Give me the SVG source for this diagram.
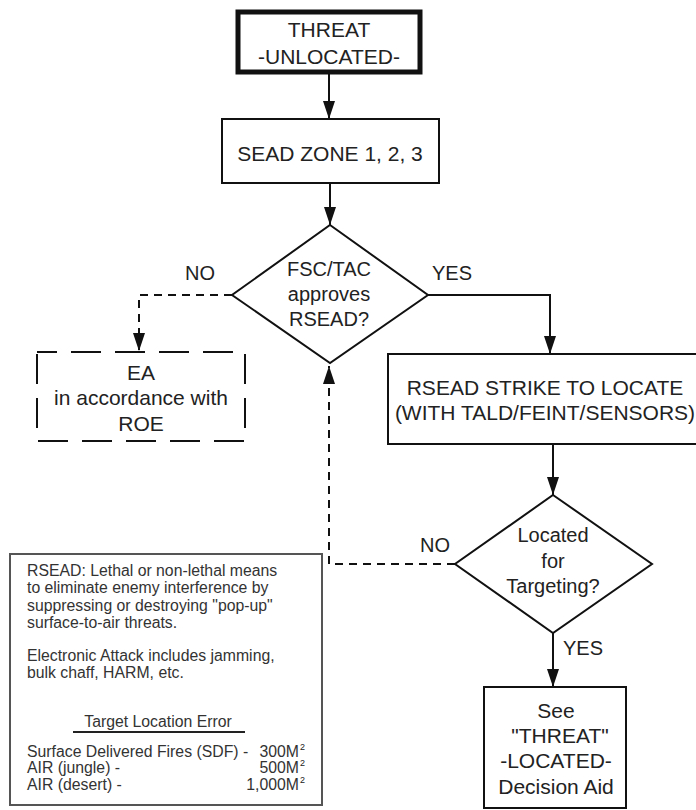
<svg xmlns="http://www.w3.org/2000/svg" width="696" height="810" viewBox="0 0 696 810">
<style>
text{font-family:"Liberation Sans",Arial,sans-serif;fill:#222}
.m{font-size:21px;text-anchor:middle}
.d{font-size:20px;text-anchor:middle}
.n{font-size:15.8px;fill:#333}
.box{fill:#fff;stroke:#111;stroke-width:2}
.ln{fill:none;stroke:#111;stroke-width:2}
.dl{fill:none;stroke:#111;stroke-width:2;stroke-dasharray:8 6}
</style>
<defs>
<marker id="ahl" viewBox="0 0 18 12" refX="18" refY="6" markerWidth="18" markerHeight="12" markerUnits="userSpaceOnUse" orient="auto">
<path d="M0,0 L18,6 L0,12 Z" fill="#111"/>
</marker>
</defs>
<rect width="696" height="810" fill="#fff"/>
<g id="connectors">
<path class="ln" d="M329,74 V119" marker-end="url(#ahl)"/>
<path class="ln" d="M330,183 V225" marker-end="url(#ahl)"/>
<path class="dl" d="M232,295 H139 V351" marker-end="url(#ahl)"/>
<path class="ln" d="M428,295 H550 V354" marker-end="url(#ahl)"/>
<path class="ln" d="M553,444 V495" marker-end="url(#ahl)"/>
<path class="dl" d="M455,564 H329 V366" marker-end="url(#ahl)"/>
<path class="ln" d="M553,633 V687" marker-end="url(#ahl)"/>
<text class="d" x="200" y="280">NO</text>
<text class="d" x="452" y="280">YES</text>
<text class="d" x="435" y="552">NO</text>
<text class="d" x="563" y="655" style="text-anchor:start">YES</text>
</g>
<g id="threat-unlocated">
<rect x="238" y="12" width="182" height="60" fill="#fff" stroke="#111" stroke-width="5"/>
<text class="m" x="329" y="37">THREAT</text>
<text class="m" x="329" y="64">-UNLOCATED-</text>
</g>
<g id="sead-zone">
<rect class="box" x="222" y="119" width="217" height="64"/>
<text class="m" x="330" y="161">SEAD ZONE 1, 2, 3</text>
</g>
<g id="approves">
<path class="box" d="M330,225 L428,295 L330,363 L232,295 Z"/>
<text class="d" x="329" y="276">FSC/TAC</text>
<text class="d" x="329" y="301">approves</text>
<text class="d" x="329" y="326">RSEAD?</text>
</g>
<g id="ea">
<rect x="37" y="352" width="208" height="89" fill="#fff" stroke="#111" stroke-width="2" stroke-dasharray="30 14" stroke-dashoffset="10"/>
<text class="m" x="141" y="380">EA</text>
<text class="m" x="141" y="405">in accordance with</text>
<text class="m" x="141" y="431">ROE</text>
</g>
<g id="strike">
<rect class="box" x="388" y="354" width="320" height="90"/>
<text class="m" x="545" y="395">RSEAD STRIKE TO LOCATE</text>
<text class="m" x="545" y="420">(WITH TALD/FEINT/SENSORS)</text>
</g>
<g id="located">
<path class="box" d="M553,495 L652,564 L553,633 L455,564 Z"/>
<text class="d" x="553" y="542">Located</text>
<text class="d" x="553" y="568">for</text>
<text class="d" x="553" y="593">Targeting?</text>
</g>
<g id="see-located">
<rect class="box" x="484" y="687" width="142" height="121"/>
<text class="m" x="556" y="718">See</text>
<text class="m" x="560" y="743">"THREAT"</text>
<text class="m" x="556" y="768">-LOCATED-</text>
<text class="m" x="556" y="794">Decision Aid</text>
</g>
<g id="note">
<rect x="10" y="554" width="312" height="251" fill="#fff" stroke="#555" stroke-width="2"/>
<text class="n" x="27" y="576">RSEAD: Lethal or non-lethal means</text>
<text class="n" x="27" y="593">to eliminate enemy interference by</text>
<text class="n" x="27" y="611">suppressing or destroying "pop-up"</text>
<text class="n" x="27" y="628">surface-to-air threats.</text>
<text class="n" x="27" y="661">Electronic Attack includes jamming,</text>
<text class="n" x="27" y="678">bulk chaff, HARM, etc.</text>
<text class="n" x="158" y="727" text-anchor="middle">Target Location Error</text>
<text class="n" x="27" y="757">Surface Delivered Fires (SDF) -</text>
<text class="n" x="299" y="757" text-anchor="end">300M</text>
<text x="300" y="750" font-size="9" fill="#333">2</text>
<text class="n" x="27" y="773">AIR (jungle) -</text>
<text class="n" x="299" y="773" text-anchor="end">500M</text>
<text x="300" y="766" font-size="9" fill="#333">2</text>
<text class="n" x="27" y="790">AIR (desert) -</text>
<text class="n" x="299" y="790" text-anchor="end">1,000M</text>
<text x="300" y="783" font-size="9" fill="#333">2</text>
<line x1="73" y1="732" x2="245" y2="732" stroke="#222" stroke-width="2"/>
</g>
</svg>
